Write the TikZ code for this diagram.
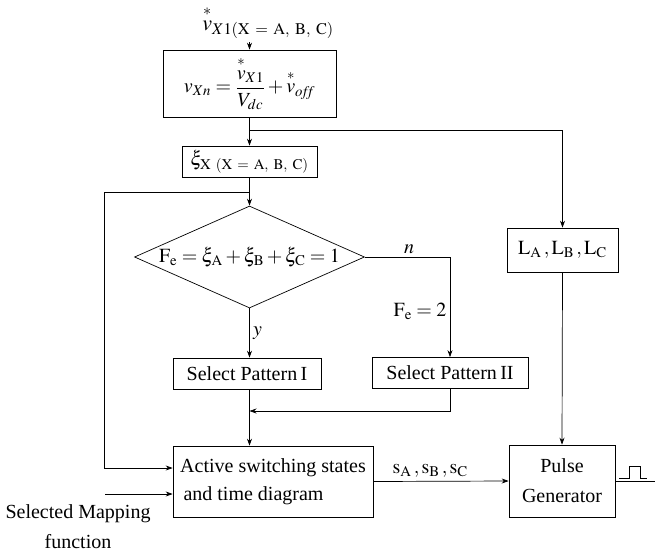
\documentclass[tikz,border=0pt]{standalone}
\usepackage{amsmath}
\usepackage{mathptmx}
\usepackage[no-math]{fontspec}
\setmainfont{Liberation Serif}
\usetikzlibrary{shapes.geometric, arrows.meta, positioning, calc}
\newcommand{\starv}[1]{\overset{\raisebox{1pt}{$\scriptstyle *$}}{v}_{#1}}

\begin{document}
\begin{tikzpicture}[
        x=1pt, y=-1pt,
        font=\fontsize{20}{24}\selectfont,
        box/.style={
            rectangle,
            draw,
            line width=0.7pt,
            inner sep=2pt,
            align=center
        },
        decision/.style={
            diamond,
            draw,
            line width=0.7pt,
            inner sep=0pt,
            shape aspect=2.25,
            minimum width=230pt,
            minimum height=102pt
        },
        arrow/.style={-{Stealth[length=7pt, width=5pt]}, line width=0.7pt},
        line/.style={line width=0.7pt}
    ]
        \useasboundingbox (0,0) rectangle (655,554);

        % Nodes
        \node[font=\fontsize{22}{26}\selectfont] (vref) at (268,22)
            {$\starv{X1(\mathrm{X\ =\ A,\ B,\ C})}$};
        \node[box, minimum width=173pt, minimum height=67pt] (norm) at (249.5,83.5)
            {$v_{Xn}=\dfrac{\starv{X1}}{V_{dc}}+\starv{o\!f\!\!f}$};
        \node[box, minimum width=135pt, minimum height=31pt] (xi) at (249.5,161.5)
            {$\xi_{\mathrm{X\ (X\ =\ A,\ B,\ C)}}$};
        \node[decision] (fe) at (249.5,257)
            {$\mathrm{F_e}=\xi_\mathrm{A}+\xi_\mathrm{B}+\xi_\mathrm{C}=1$};
        \node[box, minimum width=148pt, minimum height=31pt] (pat1) at (247,373.5) {Select Pattern\,I};
        \node[box, minimum width=156pt, minimum height=31pt] (pat2) at (450,373) {Select Pattern\,II};
        \node[box, minimum width=200pt, minimum height=71pt, align=left] (active) at (273,481.5)
            {Active switching states\\[4pt]\,and time diagram};
        \node[box, minimum width=111pt, minimum height=44pt] (lbox) at (562.5,250)
            {$\mathrm{L_A\,,L_B\,,L_C}$};
        \node[box, minimum width=106pt, minimum height=72pt] (pulse) at (562,481)
            {Pulse\\[6pt]Generator};
        \node[align=center] (map) at (78,527) {Selected Mapping\\[6pt]function};

        % Helper points
        \coordinate (split) at ($(norm.south)+(0,13)$);
        \coordinate (fb) at ($(xi.south)+(0,15)$);
        \coordinate (rail) at (104,468);
        \coordinate (mapin) at (105,494);
        \coordinate (join) at (249.5,411);
        \coordinate (out) at (655,481);

        % Arrows
        \draw[arrow] (vref.south -| norm.north) -- (norm.north);
        \draw[arrow] (norm.south) -- (xi.north);
        \draw[arrow] (split) -| (lbox.north);
        \draw[arrow] (xi.south) -- (fe.north);
        \draw[arrow] (fb) -| (rail) -- (rail -| active.west);
        \draw[arrow] (mapin) -- (mapin -| active.west);

        \draw[arrow] (fe.south) -- node[right, pos=0.5] {$y$} (fe.south |- pat1.north);
        \draw[arrow] (fe.east) -| node[above, pos=0.26] {$n$}
            node[left, pos=0.77] {$\mathrm{F_e}=2$} (pat2.north);

        \draw[arrow] (pat2.south) |- (join);
        \draw[arrow] (fe.south |- pat1.south) -- (fe.south |- active.north);

        \draw[arrow] (active.east) -- node[above, pos=0.42] {$\mathrm{s_A\,,s_B\,,s_C}$} (pulse.west);
        \draw[arrow] (lbox.south) -- (pulse.north);
        \draw[line] (pulse.east) -- (out);

        % Pulse sign
        \draw[line] ($(pulse.east)+(4,-3)$) -- ++(10,0) -- ++(0,-12) -- ++(11,0) -- ++(0,12) -- ++(7,0);

    \end{tikzpicture}
\end{document}
